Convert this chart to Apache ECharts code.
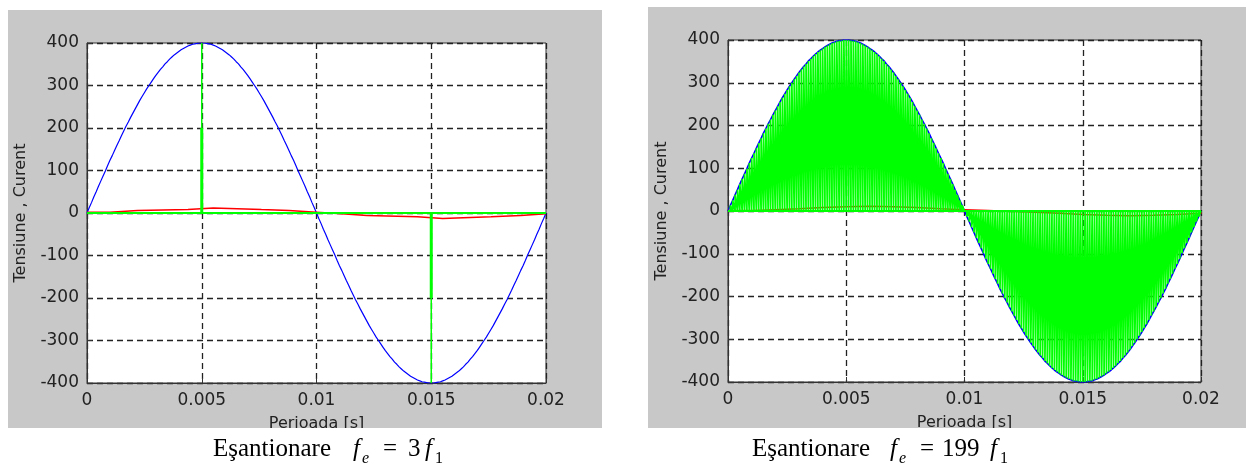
<!DOCTYPE html>
<html>
<head>
<meta charset="utf-8">
<script src="https://cdn.jsdelivr.net/npm/echarts@6/dist/echarts.min.js"></script>
<style>
  html, body { margin: 0; padding: 0; background: #fff; }
  #main { width: 1246px; height: 467px; }
</style>
</head>
<body>
<div id="main"></div>
<script>
// tick labels
const xTickLabels = ["0", "0.005", "0.01", "0.015", "0.02"];
const yTickLabels = ["-400", "-300", "-200", "-100", "0", "100", "200", "300", "400"];

// tensiunea (albastru), citita la fiecare 0.0001 s
const sampleStep = 0.0001;
const voltage = [
  0, 13, 25, 38, 50, 63, 75, 87, 99, 112,
  124, 135, 147, 159, 170, 182, 193, 204, 214, 225,
  235, 245, 255, 265, 274, 283, 292, 300, 308, 316,
  324, 331, 338, 344, 351, 356, 362, 367, 372, 376,
  380, 384, 387, 390, 393, 395, 397, 398, 399, 400,
  400,
  400, 399, 398, 397, 395, 393, 390, 387, 384, 380,
  376, 372, 367, 362, 356, 351, 344, 338, 331, 324,
  316, 308, 300, 292, 283, 274, 265, 255, 245, 235,
  225, 214, 204, 193, 182, 170, 159, 147, 135, 124,
  112, 99, 87, 75, 63, 50, 38, 25, 13, 0,
  -13, -25, -38, -50, -63, -75, -87, -99, -112, -124,
  -135, -147, -159, -170, -182, -193, -204, -214, -225, -235,
  -245, -255, -265, -274, -283, -292, -300, -308, -316, -324,
  -331, -338, -344, -351, -356, -362, -367, -372, -376, -380,
  -384, -387, -390, -393, -395, -397, -398, -399, -400, -400,
  -400, -399, -398, -397, -395, -393, -390, -387, -384, -380,
  -376, -372, -367, -362, -356, -351, -344, -338, -331, -324,
  -316, -308, -300, -292, -283, -274, -265, -255, -245, -235,
  -225, -214, -204, -193, -182, -170, -159, -147, -135, -124,
  -112, -99, -87, -75, -63, -50, -38, -25, -13, 0
];

// curentul (rosu) - trepte, panoul stang
const redLeftT = [0, 0.001, 0.0022, 0.0044, 0.0055, 0.0076, 0.0088, 0.01, 0.0111, 0.0122, 0.0144, 0.0155, 0.0176, 0.0189, 0.02];
const redLeftV = [2, 6, 8, 12, 8, 6, 2, -2, -6, -9, -13, -9, -6, -2, -2];

// curentul (rosu) - trepte, panoul drept
const redRightT = [0, 0.001, 0.002, 0.003, 0.004, 0.005, 0.006, 0.007, 0.008, 0.009, 0.01,
  0.011, 0.012, 0.013, 0.014, 0.015, 0.016, 0.017, 0.018, 0.019, 0.02];
const redRightV = [1, 3, 5, 8, 10, 11, 10, 8, 5, 3, 1, -1, -3, -5, -8, -10, -11, -10, -8, -5, -3];

// esantioane (verde), panoul stang
const stemT = [0.005, 0.015];
const stemV = [400, -400];
const stemInnerV = [200, -200];
const baseT = [0, 0.02];
const baseV = [0, 0];

const FONT = "DejaVu Sans";

function pairs(ts, vs) {
  return ts.map((t, i) => [t, vs[i]]);
}
const voltagePts = voltage.map((v, i) => [i * sampleStep, v]);

function makeX(gi) {
  return {
    type: "value", gridIndex: gi, min: 0, max: 0.02, interval: 0.005,
    axisLine: { show: true, onZero: false, lineStyle: { color: "#333", width: 1 } },
    axisTick: { show: true, inside: true, length: 5, lineStyle: { color: "#333" } },
    axisLabel: {
      color: "#222", fontFamily: FONT, fontSize: 17, margin: 9,
      formatter: (v) => xTickLabels[Math.round(v / 0.005)]
    },
    splitLine: { show: true, lineStyle: { type: [6, 4], color: "#222", width: 1.3 } },
    name: "Perioada [s]", nameLocation: "middle", nameGap: 33,
    nameTextStyle: { color: "#222", fontFamily: FONT, fontSize: 16 }
  };
}
function makeY(gi) {
  return {
    type: "value", gridIndex: gi, min: -400, max: 400, interval: 100,
    axisLine: { show: true, onZero: false, lineStyle: { color: "#333", width: 1 } },
    axisTick: { show: true, inside: true, length: 5, lineStyle: { color: "#333" } },
    axisLabel: {
      color: "#222", fontFamily: FONT, fontSize: 17, margin: 8,
      formatter: (v) => yTickLabels[Math.round((v + 400) / 100)]
    },
    splitLine: { show: true, lineStyle: { type: [6, 4], color: "#222", width: 1.3 } },
    name: "Tensiune , Curent", nameLocation: "middle", nameGap: 58, nameRotate: 90,
    nameTextStyle: { color: "#222", fontFamily: FONT, fontSize: 16 }
  };
}

const series = [];
// panoul stang
series.push({
  type: "line", xAxisIndex: 0, yAxisIndex: 0, data: voltagePts, showSymbol: false, z: 2,
  lineStyle: { color: "#0000ff", width: 1.2 }
});
series.push({
  type: "line", xAxisIndex: 0, yAxisIndex: 0, data: pairs(redLeftT, redLeftV), step: "end",
  showSymbol: false, z: 3, lineStyle: { color: "#ff0000", width: 1.5 }
});
series.push({
  type: "line", xAxisIndex: 0, yAxisIndex: 0, data: pairs(baseT, baseV), showSymbol: false, z: 4,
  lineStyle: { color: "#00ff00", width: 2 }
});
stemT.forEach((t, i) => {
  series.push({
    type: "line", xAxisIndex: 0, yAxisIndex: 0, data: [[t, 0], [t, stemV[i]]], showSymbol: false, z: 4,
    lineStyle: { color: "#00ff00", width: 1.5 }
  });
  series.push({
    type: "line", xAxisIndex: 0, yAxisIndex: 0, data: [[t, 0], [t, stemInnerV[i]]], showSymbol: false, z: 4,
    lineStyle: { color: "#00ff00", width: 3 }
  });
});

// panoul drept
const zigzag = [];
voltage.forEach((v, i) => {
  zigzag.push([i * sampleStep, 0], [i * sampleStep, v]);
});
series.push({
  type: "line", xAxisIndex: 1, yAxisIndex: 1, data: voltagePts, showSymbol: false, z: 2,
  lineStyle: { color: "#0000ff", width: 1.6 }
});
series.push({
  type: "line", xAxisIndex: 1, yAxisIndex: 1, data: pairs(redRightT, redRightV), step: "end",
  showSymbol: false, z: 3, lineStyle: { color: "#ff0000", width: 1.5 }
});
series.push({
  type: "line", xAxisIndex: 1, yAxisIndex: 1, data: zigzag, showSymbol: false, z: 4,
  lineStyle: { color: "#00ff00", width: 1.7 }
});
series.push({
  type: "line", xAxisIndex: 1, yAxisIndex: 1, data: pairs(baseT, baseV), showSymbol: false, z: 4,
  lineStyle: { color: "#00ff00", width: 2 }
});

const serif = "Liberation Serif";
function caption(x0, parts) {
  return parts.map((p) => ({
    type: "text", z: 101, x: x0 + p.dx, y: p.sub ? 459 : 449,
    style: {
      text: p.t, fill: "#000", font: (p.it ? "italic " : "") + (p.sub ? "16px " : "25px ") + serif,
      verticalAlign: "middle"
    }
  }));
}

const chart = echarts.init(document.getElementById("main"));
chart.setOption({
  animation: false,
  backgroundColor: "#fff",
  grid: [
    { left: 87, top: 43, width: 459, height: 340, show: true, backgroundColor: "#fff", borderColor: "#333", borderWidth: 1 },
    { left: 728, top: 40, width: 473, height: 342, show: true, backgroundColor: "#fff", borderColor: "#333", borderWidth: 1 }
  ],
  xAxis: [makeX(0), makeX(1)],
  yAxis: [makeY(0), makeY(1)],
  series: series,
  graphic: [
    { type: "rect", z: -10, shape: { x: 8, y: 10, width: 594, height: 418 }, style: { fill: "#c8c8c8" } },
    { type: "rect", z: -10, shape: { x: 648, y: 7, width: 598, height: 421 }, style: { fill: "#c8c8c8" } },
    { type: "rect", z: 100, shape: { x: 0, y: 428, width: 1246, height: 39 }, style: { fill: "#fff" } }
  ].concat(
    caption(213, [
      { t: "Eşantionare", dx: 0 },
      { t: "f", dx: 140, it: true },
      { t: "e", dx: 149, it: true, sub: true },
      { t: "=", dx: 170 },
      { t: "3", dx: 195 },
      { t: "f", dx: 212, it: true },
      { t: "1", dx: 222, sub: true }
    ]),
    caption(752, [
      { t: "Eşantionare", dx: 0 },
      { t: "f", dx: 138, it: true },
      { t: "e", dx: 147, it: true, sub: true },
      { t: "=", dx: 168 },
      { t: "199", dx: 190 },
      { t: "f", dx: 238, it: true },
      { t: "1", dx: 248, sub: true }
    ])
  )
});
</script>
</body>
</html>
